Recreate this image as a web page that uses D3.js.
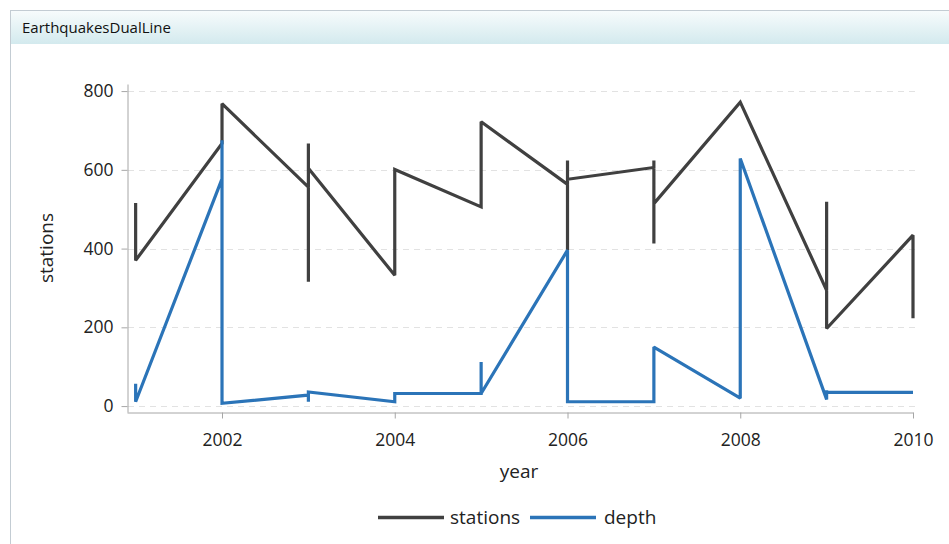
<!DOCTYPE html>
<html>
<head>
<meta charset="utf-8">
<script src="https://cdn.jsdelivr.net/npm/d3@7"></script>
<style>
  html, body { margin: 0; padding: 0; background: #ffffff; }
  svg { display: block; }
  text { font-family: "Open Sans", "DejaVu Sans", sans-serif; }
</style>
</head>
<body>
<svg id="chart" width="949" height="544"></svg>
<script>
// ---- data ----
const title = "EarthquakesDualLine";
const years    = [2001,2001, 2002,2002,2002, 2003,2003,2003,2003, 2004,2004, 2005,2005,2005, 2006,2006,2006,2006, 2007,2007,2007,2007, 2008,2008, 2009,2009,2009, 2010,2010];
const stations = [516,370,   667,720,768,    556,667,316,604,     332,601,   506,722,722,   563,624,396,576,     606,624,413,514,     772,772,   294,519,197,   434,223];
const depth    = [57,11,     577,675,7,      28,11,36,36,         11,32,     32,112,32,     396,200,11,11,       11,11,11,150,        20,629,    17,40,35,      35,35];
const xTicks = [2002, 2004, 2006, 2008, 2010];
const yTicks = [0, 200, 400, 600, 800];
const seriesNames = ["stations", "depth"];
const seriesColors = ["#404040", "#2b74b8"];

const svg = d3.select("#chart");

// ---- window frame ----
const defs = svg.append("defs");
const grad = defs.append("linearGradient").attr("id", "tb").attr("x1", 0).attr("y1", 0).attr("x2", 0).attr("y2", 1);
grad.append("stop").attr("offset", "0%").attr("stop-color", "#f7fbfc");
grad.append("stop").attr("offset", "100%").attr("stop-color", "#d3eaee");
svg.append("rect").attr("x", 10.5).attr("y", 10.5).attr("width", 945).attr("height", 540)
  .attr("fill", "#ffffff").attr("stroke", "#c3ccd3");
svg.append("rect").attr("x", 11).attr("y", 11).attr("width", 940).attr("height", 33).attr("fill", "url(#tb)");
svg.append("text").attr("x", 22).attr("y", 33).attr("font-size", 15).attr("fill", "#111")
  .text(title);

// ---- scales ----
const x = d3.scaleLinear().domain([2000.9, 2010]).range([127, 913]);
const y = d3.scaleLinear().domain([-15, 818]).range([412, 84]);

// ---- gridlines ----
svg.append("g").selectAll("line").data(yTicks).join("line")
  .attr("x1", 128).attr("x2", 915)
  .attr("y1", d => Math.round(y(d)) + 0.5).attr("y2", d => Math.round(y(d)) + 0.5)
  .attr("stroke", "#e2e2e2").attr("stroke-dasharray", "6,5");

// ---- axes ----
const axisColor = "#a6a6a6";
const gx = svg.append("g").attr("transform", "translate(0,412.5)")
  .call(d3.axisBottom(x).tickValues(xTicks).tickFormat(d3.format("d")).tickSize(6).tickPadding(15).tickSizeOuter(0));
const gy = svg.append("g").attr("transform", "translate(127.5,0)")
  .call(d3.axisLeft(y).tickValues(yTicks).tickSize(6).tickPadding(8).tickSizeOuter(0));
[gx, gy].forEach(g => {
  g.select(".domain").attr("stroke", axisColor);
  g.selectAll(".tick line").attr("stroke", axisColor);
  g.selectAll(".tick text").attr("fill", "#222").attr("font-size", 17.5)
    .attr("font-family", "'Open Sans', sans-serif");
});

// axis titles
svg.append("text").attr("x", 519).attr("y", 478).attr("text-anchor", "middle")
  .attr("font-size", 19).attr("fill", "#222").text("year");
svg.append("text").attr("transform", "translate(53,248) rotate(-90)").attr("text-anchor", "middle")
  .attr("font-size", 19).attr("fill", "#222").text("stations");

// ---- lines ----
const rows = years.map((yr, i) => ({ year: yr, stations: stations[i], depth: depth[i] }));
const seriesKeys = ["stations", "depth"];
seriesKeys.forEach((k, i) => {
  const line = d3.line().x(d => x(d.year)).y(d => y(d[k]));
  svg.append("path").datum(rows).attr("d", line)
    .attr("fill", "none").attr("stroke", seriesColors[i]).attr("stroke-width", 3.2)
    .attr("stroke-linejoin", "miter").attr("stroke-miterlimit", 2);
});

// ---- legend ----
const legend = svg.append("g");
const legendItems = [{ x: 378, tx: 450 }, { x: 530, tx: 604 }];
seriesNames.forEach((name, i) => {
  legend.append("line").attr("x1", legendItems[i].x).attr("x2", legendItems[i].x + 66)
    .attr("y1", 517.5).attr("y2", 517.5).attr("stroke", seriesColors[i]).attr("stroke-width", 3.5);
  legend.append("text").attr("x", legendItems[i].tx).attr("y", 524).attr("font-size", 19)
    .attr("fill", "#222").text(name);
});
</script>
</body>
</html>
